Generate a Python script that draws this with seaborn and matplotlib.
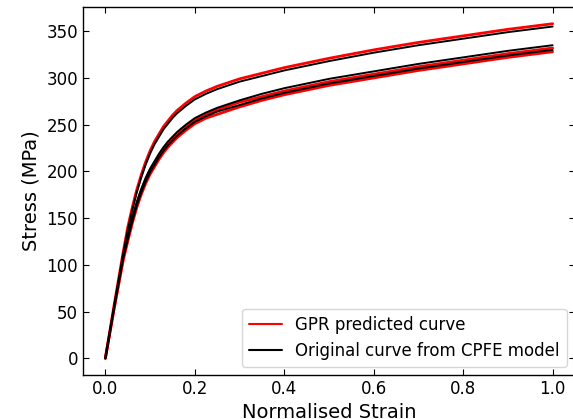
import matplotlib
matplotlib.use('Agg')
import matplotlib.pyplot as plt
from matplotlib.lines import Line2D
import seaborn as sns
import pandas as pd

# normalised strain grid shared by all curves (denser around the knee)
strain = [0, 0.02, 0.04, 0.05, 0.06, 0.07, 0.08, 0.09, 0.10, 0.11, 0.12, 0.13, 0.14,
          0.15, 0.16, 0.18, 0.20, 0.225, 0.25, 0.30, 0.35, 0.40, 0.50, 0.60, 0.70, 0.80,
          0.90, 1.00]

# stress (MPa)
orig_a = [0, 57, 112, 137, 158, 177, 193, 207, 219, 229, 237, 245, 251,
          257, 262, 270, 277, 283, 288, 296, 302, 308, 318, 327, 335, 342, 349, 355]
gpr_a = [0, 58, 114, 140, 161, 180, 196, 210, 222, 232, 240, 248, 254,
         260, 265, 273, 280, 286, 291, 299, 305, 311, 321, 330, 338, 345, 352, 358]
orig_b = [0, 56, 110, 130, 150, 167, 181, 193, 203, 211, 219, 226, 232,
          237, 242, 250, 257, 263, 268, 276, 283, 289, 299, 307, 315, 322, 329, 335]
gpr_b = [0, 55, 108, 128, 148, 165, 179, 191, 201, 209, 217, 224, 230,
         235, 240, 248, 255, 261, 266, 274, 280, 286, 296, 304, 312, 319, 326, 332]
orig_c = [0, 55, 107, 127, 146, 163, 177, 189, 199, 207, 215, 222, 228,
          233, 238, 246, 253, 259, 264, 271, 278, 284, 294, 302, 310, 317, 324, 330]
gpr_c = [0, 54, 105, 125, 144, 161, 175, 187, 197, 205, 213, 220, 226,
         231, 236, 244, 251, 257, 261, 269, 276, 282, 292, 300, 308, 315, 322, 328]

gpr_label = 'GPR predicted curve'
orig_label = 'Original curve from CPFE model'

rows = []
for name, src, vals in [('a', gpr_label, gpr_a), ('b', gpr_label, gpr_b), ('c', gpr_label, gpr_c),
                        ('a', orig_label, orig_a), ('b', orig_label, orig_b), ('c', orig_label, orig_c)]:
    for s, v in zip(strain, vals):
        rows.append({'strain': s, 'stress': v, 'source': src, 'curve': src + name})
df = pd.DataFrame(rows)

sns.set_style('white')
plt.rcParams['font.family'] = ['DejaVu Sans']
plt.rcParams['text.color'] = 'black'
plt.rcParams['axes.labelcolor'] = 'black'
plt.rcParams['xtick.color'] = 'black'
plt.rcParams['ytick.color'] = 'black'

fig = plt.figure(figsize=(5.73, 4.19), dpi=100)
ax = fig.add_axes([83 / 573, 1 - 375 / 419, (575 - 83) / 573, (375 - 7) / 419])

sns.lineplot(data=df[df['source'] == gpr_label], x='strain', y='stress', units='curve',
             estimator=None, color='red', lw=2.0, sort=False, legend=False, ax=ax)
sns.lineplot(data=df[df['source'] == orig_label], x='strain', y='stress', units='curve',
             estimator=None, color='black', lw=1.4, sort=False, legend=False, ax=ax)

ax.set_xlim(-0.05, 1.05)
ax.set_ylim(-17.9, 375.9)
ax.set_xticks([0, 0.2, 0.4, 0.6, 0.8, 1.0])
ax.set_yticks([0, 50, 100, 150, 200, 250, 300, 350])
ax.tick_params(direction='in', bottom=True, left=True, top=True, right=True,
               labelsize=12, length=4, width=0.8, color='black')
for sp in ax.spines.values():
    sp.set_color('black')
    sp.set_linewidth(1)
ax.set_xlabel('Normalised Strain', fontsize=14)
ax.set_ylabel('Stress (MPa)', fontsize=14)

handles = [Line2D([], [], color='red', lw=1.5), Line2D([], [], color='black', lw=1.5)]
ax.legend(handles, [gpr_label, orig_label], loc='lower right', fontsize=12, frameon=True)

fig.savefig('out.png', dpi=100)
